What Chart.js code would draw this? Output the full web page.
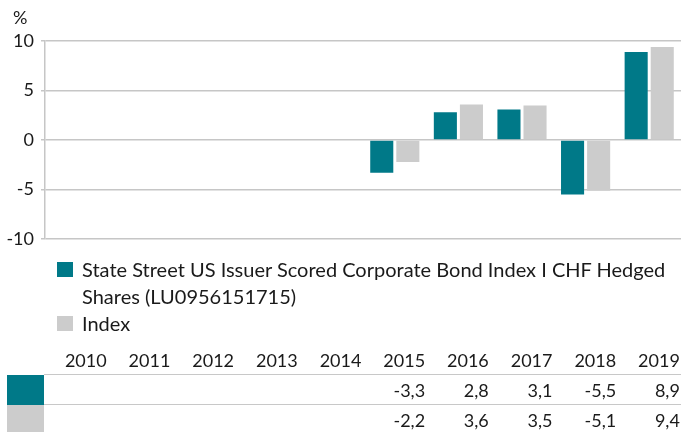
<!DOCTYPE html>
<html>
<head>
<meta charset="utf-8">
<script src="https://cdn.jsdelivr.net/npm/chart.js@4"></script>
<style>
  body { margin: 0; background: #fff; font-family: Lato, sans-serif; color: #1a1a1a; }
  #wrap { position: relative; width: 681px; height: 432px; overflow: hidden; }
  #chart { position: absolute; left: 0; top: 0; }
  #unit { position: absolute; left: 13px; top: 6px; font-size: 18px; }
  .leg { position: absolute; left: 57px; font-size: 20px; line-height: 27px; }
  .leg .box { position: absolute; left: 0; top: 6px; width: 16px; height: 15px; }
  .leg .txt { position: absolute; left: 25px; top: 0; width: 599px; }
  #table { position: absolute; left: 0; top: 0; width: 681px; }
  .row { position: absolute; left: 0; width: 681px; font-size: 18px; }
  .row .sw { position: absolute; left: 7px; top: 0; width: 37px; }
  .row .cells { position: absolute; left: 44px; top: 0; width: 637px; display: flex; }
  .row .cells div { width: 63.7px; text-align: right; padding-right: 1px; box-sizing: border-box; }
  .line { position: absolute; left: 44px; width: 637px; height: 0; border-top: 1.5px solid #c8c8c8; }
</style>
</head>
<body>
<div id="wrap">
  <canvas id="chart" width="681" height="257"></canvas>
  <div id="unit">%</div>
  <div id="legend"></div>
  <div id="table"></div>
</div>
<script>
const years = ['2010', '2011', '2012', '2013', '2014', '2015', '2016', '2017', '2018', '2019'];
const fundValues = [null, null, null, null, null, -3.3, 2.8, 3.1, -5.5, 8.9];
const indexValues = [null, null, null, null, null, -2.2, 3.6, 3.5, -5.1, 9.4];
const fundLabel = 'State Street US Issuer Scored Corporate Bond Index I CHF Hedged Shares (LU0956151715)';
const indexLabel = 'Index';
const fundColor = '#007988';
const indexColor = '#cccccc';
const gridColor = '#c6c6c6';

const datasets = [
  { label: fundLabel, data: fundValues, backgroundColor: fundColor },
  { label: indexLabel, data: indexValues, backgroundColor: indexColor }
];

const ctx = document.getElementById('chart').getContext('2d');
new Chart(ctx, {
  type: 'bar',
  data: {
    labels: years,
    datasets: datasets.map(d => Object.assign({
      categoryPercentage: 0.82,
      barPercentage: 0.885,
      borderWidth: 0
    }, d))
  },
  options: {
    responsive: false,
    animation: false,
    layout: { padding: { top: 41, bottom: 13, left: 0, right: 0 } },
    plugins: { legend: { display: false }, tooltip: { enabled: false } },
    scales: {
      x: { display: false },
      y: {
        min: -10,
        max: 10,
        afterFit: s => { s.width = 45; },
        ticks: {
          stepSize: 5,
          padding: 7,
          color: '#1a1a1a',
          font: { family: 'Lato', size: 18 }
        },
        grid: { color: gridColor, lineWidth: 1.5, tickLength: 4 },
        border: { display: true, color: gridColor, width: 1.5 }
      }
    }
  }
});

// legend
const legend = document.getElementById('legend');
const legendTops = [256, 310];
datasets.forEach((d, i) => {
  const item = document.createElement('div');
  item.className = 'leg';
  item.style.top = legendTops[i] + 'px';
  item.innerHTML = '<div class="box" style="background:' + d.backgroundColor + '"></div><div class="txt"></div>';
  item.querySelector('.txt').textContent = d.label;
  legend.appendChild(item);
});

// data table
const fmt = v => v === null ? '' : v.toFixed(1).replace('.', ',');
const table = document.getElementById('table');
function addRow(top, height, cells, color) {
  const row = document.createElement('div');
  row.className = 'row';
  row.style.top = top + 'px';
  row.style.height = height + 'px';
  row.style.lineHeight = height + 'px';
  let html = color ? '<div class="sw" style="height:' + height + 'px;background:' + color + '"></div>' : '';
  html += '<div class="cells">' + cells.map(c => '<div>' + c + '</div>').join('') + '</div>';
  row.innerHTML = html;
  table.appendChild(row);
}
addRow(346, 28, years, null);
addRow(374.5, 30, fundValues.map(fmt), fundColor);
addRow(405, 30, indexValues.map(fmt), indexColor);
[374, 404].forEach(y => {
  const l = document.createElement('div');
  l.className = 'line';
  l.style.top = y + 'px';
  table.appendChild(l);
});
</script>
</body>
</html>
